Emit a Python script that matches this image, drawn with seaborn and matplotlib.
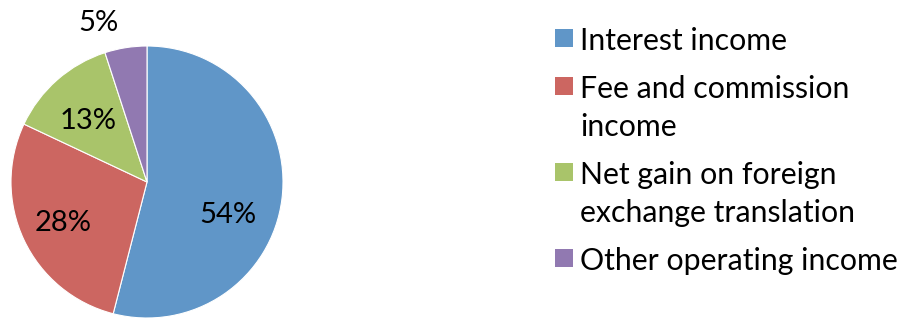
import matplotlib
matplotlib.use("Agg")
import matplotlib.pyplot as plt
from matplotlib.patches import Rectangle
import seaborn as sns
import numpy as np

# Operating income breakdown (percent of total)
categories = [
    "Interest income",
    "Fee and commission\nincome",
    "Net gain on foreign\nexchange translation",
    "Other operating income",
]
shares = [54, 28, 13, 5]
pct_labels = ["54%", "28%", "13%", "5%"]

colors = ["#6096C8", "#CC6661", "#A9C46A", "#9179B1"]

sns.set_theme(style="white")
plt.rcParams["font.family"] = ["Lato", "DejaVu Sans"]

W, H = 905, 320
fig = plt.figure(figsize=(W / 100, H / 100), dpi=100)
# pie axes: centre near (147, 182) px, radius ~136 px
ax = fig.add_axes([(147 - 136) / W, (H - 182 - 136) / H, 272 / W, 272 / H])

wedges, _ = ax.pie(
    shares,
    colors=colors,
    startangle=90,
    counterclock=False,
    radius=1.0,
    wedgeprops=dict(linewidth=0.8, edgecolor="white"),
)
ax.set_xlim(-1, 1)
ax.set_ylim(-1, 1)
ax.set_aspect("equal")
ax.axis("off")

# label placement: (angle in degrees, distance as fraction of radius)
label_polar = [(-22, 0.64), (-154, 0.69), (134, 0.62), (107, 1.22)]
for txt, (ang, dist) in zip(pct_labels, label_polar):
    a = np.deg2rad(ang)
    ax.text(dist * np.cos(a), dist * np.sin(a), txt, ha="center", va="center",
            fontsize=21, color="black", clip_on=False)

# legend: square swatch aligned with the first line of each (possibly wrapped) label
line_step = 38      # px between wrapped lines
entry_gap = 10      # extra px between entries
baseline = 50       # px from top, first line of first entry
for wedge, label in zip(wedges, categories):
    lines = label.split("\n")
    fig.patches.append(Rectangle(
        (555 / W, 1 - (baseline - 3) / H), 18 / W, 18 / H,
        transform=fig.transFigure, facecolor=wedge.get_facecolor(),
        edgecolor="none"))
    for i, ln in enumerate(lines):
        fig.text(580 / W, 1 - (baseline + i * line_step) / H, ln,
                 fontsize=21.8, color="black", ha="left", va="baseline")
    baseline += len(lines) * line_step + entry_gap

fig.savefig("out.png", dpi=100)
